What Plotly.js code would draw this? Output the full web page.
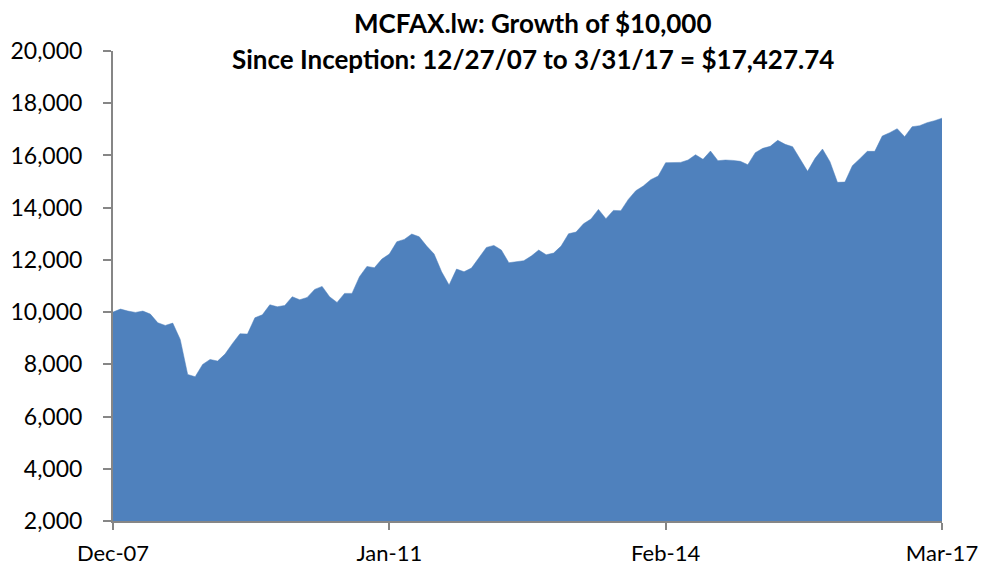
<!DOCTYPE html>
<html>
<head>
<meta charset="utf-8">
<script src="https://cdn.plot.ly/plotly-3.0.1.min.js"></script>
<style>
  html, body { margin: 0; padding: 0; background: #ffffff; }
  #chart { width: 994px; height: 567px; }
</style>
</head>
<body>
<div id="chart"></div>
<script>
// Month labels (category axis), Dec-07 .. Mar-17
const months = [
  "Dec-07",
  "Jan-08","Feb-08","Mar-08","Apr-08","May-08","Jun-08","Jul-08","Aug-08","Sep-08","Oct-08","Nov-08","Dec-08",
  "Jan-09","Feb-09","Mar-09","Apr-09","May-09","Jun-09","Jul-09","Aug-09","Sep-09","Oct-09","Nov-09","Dec-09",
  "Jan-10","Feb-10","Mar-10","Apr-10","May-10","Jun-10","Jul-10","Aug-10","Sep-10","Oct-10","Nov-10","Dec-10",
  "Jan-11","Feb-11","Mar-11","Apr-11","May-11","Jun-11","Jul-11","Aug-11","Sep-11","Oct-11","Nov-11","Dec-11",
  "Jan-12","Feb-12","Mar-12","Apr-12","May-12","Jun-12","Jul-12","Aug-12","Sep-12","Oct-12","Nov-12","Dec-12",
  "Jan-13","Feb-13","Mar-13","Apr-13","May-13","Jun-13","Jul-13","Aug-13","Sep-13","Oct-13","Nov-13","Dec-13",
  "Jan-14","Feb-14","Mar-14","Apr-14","May-14","Jun-14","Jul-14","Aug-14","Sep-14","Oct-14","Nov-14","Dec-14",
  "Jan-15","Feb-15","Mar-15","Apr-15","May-15","Jun-15","Jul-15","Aug-15","Sep-15","Oct-15","Nov-15","Dec-15",
  "Jan-16","Feb-16","Mar-16","Apr-16","May-16","Jun-16","Jul-16","Aug-16","Sep-16","Oct-16","Nov-16","Dec-16",
  "Jan-17","Feb-17","Mar-17"
];

// Growth of $10,000
const growth = [
  10000,
  10116,10039,9989,10039,9924,9592,9490,9580,8954,7613,7524,7996,
  8188,8124,8392,8801,9171,9158,9784,9899,10282,10205,10256,10589,
  10473,10563,10870,10985,10589,10371,10717,10717,11355,11750,11700,12032,
  12223,12695,12785,12989,12887,12530,12223,11546,11036,11648,11546,11687,
  12095,12478,12555,12376,11891,11930,11968,12146,12376,12197,12261,12530,
  13002,13066,13385,13564,13934,13577,13896,13883,14317,14649,14828,15071,
  15211,15722,15734,15734,15824,16028,15850,16169,15799,15824,15811,15773,
  15646,16105,16271,16348,16578,16424,16335,15863,15390,15888,16246,15761,
  14969,14981,15607,15876,16156,16156,16744,16871,17025,16718,17101,17139,
  17254,17331,17427.74
];

const xTicks = ["Dec-07","Jan-11","Feb-14","Mar-17"];
const yTicks = [2000,4000,6000,8000,10000,12000,14000,16000,18000,20000];
const titleLines = ["MCFAX.lw: Growth of $10,000", "Since Inception: 12/27/07 to 3/31/17 = $17,427.74"];

const FONT = "Lato, 'Open Sans', sans-serif";
const AXIS = "#868686";

const trace = {
  type: "scatter",
  mode: "lines",
  x: months,
  y: growth,
  fill: "tozeroy",
  fillcolor: "#4F81BD",
  line: { color: "#4F81BD", width: 0.5 },
  hoverinfo: "x+y"
};

const layout = {
  width: 994,
  height: 567,
  margin: { l: 113, r: 52, t: 51, b: 46, pad: 0 },
  paper_bgcolor: "#ffffff",
  plot_bgcolor: "#ffffff",
  showlegend: false,
  font: { family: FONT, color: "#000000", size: 23 },
  xaxis: {
    type: "category",
    range: [0, months.length - 1],
    tickmode: "array",
    tickvals: xTicks,
    ticktext: xTicks,
    showgrid: false,
    zeroline: false,
    showline: true,
    linecolor: AXIS,
    linewidth: 2,
    ticks: "outside",
    ticklen: 7,
    tickwidth: 2,
    tickcolor: AXIS,
    ticklabelstandoff: 5,
    tickfont: { family: FONT, size: 22, color: "#000" }
  },
  yaxis: {
    range: [2000, 20000],
    tickmode: "array",
    tickvals: yTicks,
    ticktext: yTicks.map(v => v.toLocaleString("en-US")),
    showgrid: false,
    zeroline: false,
    showline: true,
    linecolor: AXIS,
    linewidth: 2,
    ticks: "outside",
    ticklen: 8,
    tickwidth: 2,
    tickcolor: AXIS,
    ticklabelstandoff: 16,
    tickfont: { family: FONT, size: 23, color: "#000" }
  },
  annotations: [
    {
      text: "<b>" + titleLines[0] + "</b>",
      xref: "paper", yref: "paper",
      x: (533 - 113) / 829, y: 1 + (51 - 23) / 470,
      xanchor: "center", yanchor: "middle",
      showarrow: false,
      font: { family: FONT, size: 26, color: "#000" }
    },
    {
      text: "<b>" + titleLines[1] + "</b>",
      xref: "paper", yref: "paper",
      x: (533 - 113) / 829, y: 1 + (51 - 58.7) / 470,
      xanchor: "center", yanchor: "middle",
      showarrow: false,
      font: { family: FONT, size: 26, color: "#000" }
    }
  ]
};

Plotly.newPlot("chart", [trace], layout, { displayModeBar: false, staticPlot: true });
</script>
</body>
</html>
